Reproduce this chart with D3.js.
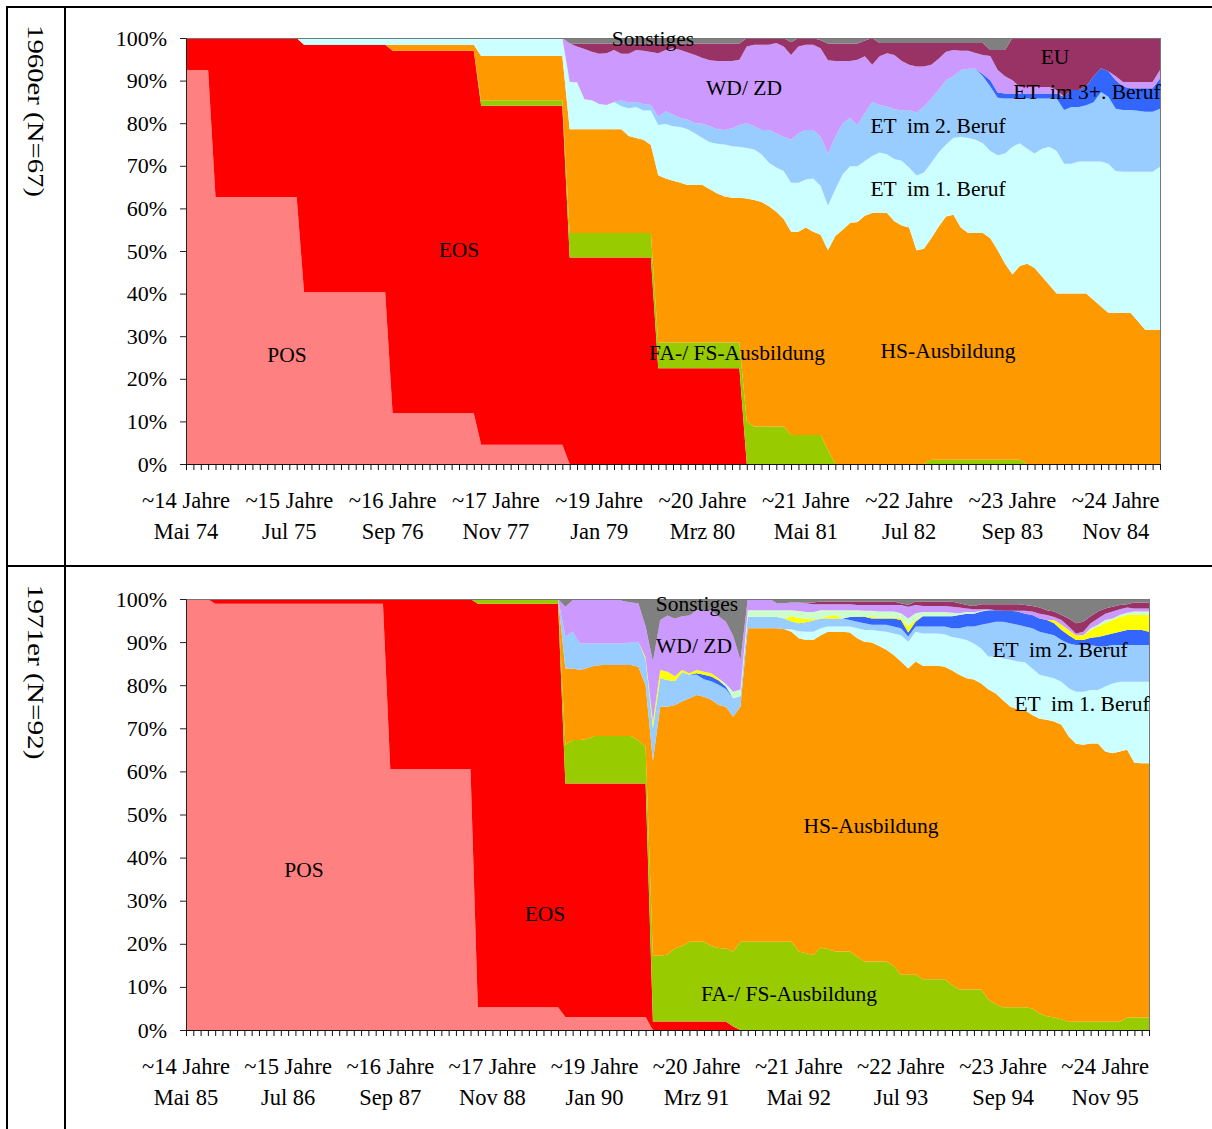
<!DOCTYPE html>
<html><head><meta charset="utf-8">
<script src="https://cdn.jsdelivr.net/npm/d3@7"></script>
<style>
body{margin:0;background:#fff;}
svg text{font-family:"Liberation Serif","Times New Roman",serif;fill:#000;}
</style></head><body>
<svg id="c" width="1212" height="1129"></svg>
<script>
// ---------- shared labels ----------
const seriesKeys = ["POS","EOS","FA","HS","ET1","ET2","ET3","GELB","HGRUEN","WDZD","EU","SONST"];
const seriesColors = {POS:"#FF8080",EOS:"#FF0000",FA:"#99CC00",HS:"#FF9900",ET1:"#CCFFFF",ET2:"#99CCFF",ET3:"#3366FF",GELB:"#FFFF00",HGRUEN:"#CCFFCC",WDZD:"#CC99FF",EU:"#993366",SONST:"#808080"};
const yTicks = [0,0.1,0.2,0.3,0.4,0.5,0.6,0.7,0.8,0.9,1];
const ageLabels = ["~14 Jahre","~15 Jahre","~16 Jahre","~17 Jahre","~19 Jahre","~20 Jahre","~21 Jahre","~22 Jahre","~23 Jahre","~24 Jahre"];
const dateLabels60 = ["Mai 74","Jul 75","Sep 76","Nov 77","Jan 79","Mrz 80","Mai 81","Jul 82","Sep 83","Nov 84"];
const dateLabels71 = ["Mai 85","Jul 86","Sep 87","Nov 88","Jan 90","Mrz 91","Mai 92","Jul 93","Sep 94","Nov 95"];
const labelStep = 14;

// ---------- 1960er (N=67), monthly shares in %, months 0..132 ----------
const pos60 = [92.5,92.5,92.5,92.5,
62.7,62.7,62.7,62.7,62.7,62.7,62.7,62.7,62.7,62.7,62.7,62.7,
40.3,40.3,40.3,40.3,40.3,40.3,40.3,40.3,40.3,40.3,40.3,40.3,
11.9,11.9,11.9,11.9,11.9,11.9,11.9,11.9,11.9,11.9,11.9,11.9,
4.5,4.5,4.5,4.5,4.5,4.5,4.5,4.5,4.5,4.5,4.5,4.5,
0,0,0,0,0,0,0,0,0,0,0,0,
0,0,0,0,0,0,0,0,0,0,0,0,
0,0,0,0,0,0,0,0,0,0,0,0,
0,0,0,0,0,0,0,0,0,0,0,0,0,
0,0,0,0,0,0,0,0,0,0,0,0,0,
0,0,0,0,0,0,0,0,0,0,0,0,0,0,0,0,0,0,0];
const eos60 = [7.5,7.5,7.5,7.5,
37.3,37.3,37.3,37.3,37.3,37.3,37.3,37.3,37.3,37.3,37.3,37.3,
58.1,58.1,58.1,58.1,58.1,58.1,58.1,58.1,58.1,58.1,58.1,58.1,
85.1,85.1,85.1,85.1,85.1,85.1,85.1,85.1,85.1,85.1,85.1,85.1,
79.6,79.6,79.6,79.6,79.6,79.6,79.6,79.6,79.6,79.6,79.6,79.6,
48.5,48.5,48.5,48.5,48.5,48.5,48.5,48.5,48.5,48.5,48.5,48.5,
22.5,22.5,22.5,22.5,22.5,22.5,22.5,22.5,22.5,22.5,22.5,22.5,
0,0,0,0,0,0,0,0,0,0,0,0,
0,0,0,0,0,0,0,0,0,0,0,0,0,
0,0,0,0,0,0,0,0,0,0,0,0,0,
0,0,0,0,0,0,0,0,0,0,0,0,0,0,0,0,0,0,0];
const fa60 = [0,0,0,0,
0,0,0,0,0,0,0,0,0,0,0,0,
0,0,0,0,0,0,0,0,0,0,0,0,
0,0,0,0,0,0,0,0,0,0,0,0,
1.3,1.3,1.3,1.3,1.3,1.3,1.3,1.3,1.3,1.3,1.3,1.3,
5.7,5.7,5.7,5.7,5.7,5.7,5.7,5.7,5.7,5.7,5.7,5.7,
6.0,6.0,6.0,6.0,6.0,6.0,6.0,6.0,6.0,6.0,6.0,6.0,
9.9,8.8,8.8,8.8,8.8,8.8,6.8,6.8,6.8,6.8,6.8,3.3,
0,0,0,0,0,0,0,0,0,0,0,0,0,
1.0,1.0,1.0,1.0,1.0,1.0,1.0,1.0,1.0,1.0,1.0,1.0,1.0,
0,0,0,0,0,0,0,0,0,0,0,0,0,0,0,0,0,0,0];
const hs60 = [0,0,0,0,
0,0,0,0,0,0,0,0,0,0,0,0,
0,0,0,0,0,0,0,0,0,0,0,0,
1.4,1.4,1.4,1.4,1.4,1.4,1.4,1.4,1.4,1.4,1.4,1.4,
10.4,10.4,10.4,10.4,10.4,10.4,10.4,10.4,10.4,10.4,10.4,10.4,
24.4,24.4,24.4,24.4,24.4,24.4,24.4,24.4,22.8,22.3,21.9,20.7,
39.3,38.5,38.0,37.5,37.0,37.0,37.0,36.0,35.0,34.3,34.0,34.0,
52.4,53.2,52.7,51.7,50.4,48.7,47.7,47.7,48.7,47.7,47.0,46.9,
53.5,55.0,56.6,56.8,58.3,58.9,58.9,58.9,57.0,56.0,55.5,50.2,50.5,
52.0,54.7,57.1,57.5,54.5,53.2,53.2,53.2,52.0,49.2,46.0,43.5,45.5,
47,46,44,42,40,40,40,40,40,38.5,37,35.5,35.5,35.5,35.5,33.5,31.5,31.5,31.5];
const et1_60 = [0,0,0,0,
0,0,0,0,0,0,0,0,0,0,0,0,
1.6,1.6,1.6,1.6,1.6,1.6,1.6,1.6,1.6,1.6,1.6,1.6,
1.6,1.6,1.6,1.6,1.6,1.6,1.6,1.6,1.6,1.6,1.6,1.6,
4.2,4.2,4.2,4.2,4.2,4.2,4.2,4.2,4.2,4.2,4.2,4.2,
11.1,11.0,7.0,6.8,5.9,5.7,6.4,5.4,6.5,7.3,6.9,8.1,
11.8,12.8,12.8,13.1,13.1,12.1,11.0,11.0,11.7,12.2,12.1,12.0,
11.9,11.8,11.2,10.2,10.4,11.3,11.5,11.5,11.3,12.5,11.5,10.4,
11.0,13.0,13.3,13.1,12.8,13.4,14.2,13.8,14.6,15.2,14.1,17.5,17.9,
17.7,17.4,16.9,18.0,21.3,22.3,21.9,21.1,20.5,22.3,25.9,30.0,28.8,
27,26.9,30,32.5,33.5,30.5,30.5,31,31,32.5,34,35,33.3,33.1,33.1,35.1,37.1,37.1,38.3];
const et2_60 = [0,0,0,0,
0,0,0,0,0,0,0,0,0,0,0,0,
0,0,0,0,0,0,0,0,0,0,0,0,
0,0,0,0,0,0,0,0,0,0,0,0,
0,0,0,0,0,0,0,0,0,0,0,0,
0,0,0,0,0,0,0,1.4,1.3,1.2,1.5,1.3,
1.9,3.0,2.7,2.1,2.2,2.4,3.4,3.8,3.4,3.4,4.2,5.1,
5.8,5.5,5.7,7.7,8.0,8.0,10.1,11.6,11.6,11.4,11.5,12.3,
12.3,12.0,11.3,9.7,11.3,12.7,11.2,11.2,11.7,11.8,13.5,14.8,15.5,
15.1,14.7,15.1,14.5,15.7,16.3,16.7,15.7,15.1,13.5,12.9,11.3,10.5,
11.8,12.9,11.8,11.3,12.3,12.6,13.3,12.8,13.2,13.9,16.3,15.7,14.6,14.5,14.5,14.3,14.1,14.1,13.6];
const et3_60 = [0,0,0,0,
0,0,0,0,0,0,0,0,0,0,0,0,
0,0,0,0,0,0,0,0,0,0,0,0,
0,0,0,0,0,0,0,0,0,0,0,0,
0,0,0,0,0,0,0,0,0,0,0,0,
0,0,0,0,0,0,0,0,0,0,0,0,
0,0,0,0,0,0,0,0,0,0,0,0,
0,0,0,0,0,0,0,0,0,0,0,0,
0,0,0,0,0,0,0,0,0,0,0,0,0,
0,0,0,0,0,0,0,0.5,1.5,1.2,1.2,1.2,1.2,
1.2,1.2,1.2,1.2,1.2,3.1,4.0,4.0,4.4,6.1,5.6,6.0,6.7,5.5,5.1,5.3,5.5,5.5,7.1];
const wd60 = [0,0,0,0,
0,0,0,0,0,0,0,0,0,0,0,0,
0,0,0,0,0,0,0,0,0,0,0,0,
0,0,0,0,0,0,0,0,0,0,0,0,
0,0,0,0,0,0,0,0,0,0,0,0,
9.0,8.4,11.8,11.4,11.8,12.1,12.2,10.9,11.5,12.2,12.5,12.4,
14.9,14.4,15.6,16.0,15.8,16.0,15.4,15.5,16.0,16.2,15.8,15.3,
18.0,19.1,20.0,20.0,21.2,21.2,19.9,20.4,20.0,20.0,20.8,21.9,
17.8,14.6,13.4,15.3,13.3,8.7,11.4,12.5,12.7,11.6,10.6,10.8,9.4,
7.9,7.3,6.7,6.2,4.5,4.2,3.7,4.5,5.7,5.3,4.0,3.1,1.5,
1.5,1.5,1.5,1.5,0.8,0,0,0,0,0,0,0,0.9,1.1,1.5,1.5,1.5,1.5,2.0];
const eu60 = [0,0,0,0,
0,0,0,0,0,0,0,0,0,0,0,0,
0,0,0,0,0,0,0,0,0,0,0,0,
0,0,0,0,0,0,0,0,0,0,0,0,
0,0,0,0,0,0,0,0,0,0,0,0,
0,0.7,1.3,1.9,2.4,2.3,1.5,2.4,2.4,1.5,1.7,2.0,
2.3,1.5,1.1,1.5,2.1,2.7,3.4,3.9,4.1,4.1,4.1,3.8,
2.0,1.6,1.6,1.6,1.2,2.0,3.0,2.0,1.6,1.6,1.9,3.9,
4.1,4.1,4.1,3.8,3.7,6.3,3.1,2.4,2.8,4.2,5.1,5.5,5.5,
5.1,3.7,2.0,1.6,1.8,1.8,2.3,2.8,1.4,4.7,6.2,9.9,11.5,
11.5,11.5,11.5,11.5,12.2,13.8,12.2,12.2,11.4,9.0,7.1,7.8,9.0,10.3,10.3,10.3,10.3,10.3,7.5];
const son60 = [0,0,0,0,
0,0,0,0,0,0,0,0,0,0,0,0,
0,0,0,0,0,0,0,0,0,0,0,0,
0,0,0,0,0,0,0,0,0,0,0,0,
0,0,0,0,0,0,0,0,0,0,0,0,
1.3,1.3,1.3,1.3,1.3,1.3,1.3,1.3,1.3,1.3,1.3,1.3,
1.3,1.3,1.3,1.3,1.3,1.3,1.3,1.3,1.3,1.3,1.3,1.3,
0,0,0,0,0,0,1.0,0,0,0,0.5,1.3,
1.3,1.3,1.3,1.3,0.6,0,1.2,1.2,1.2,1.2,1.2,1.2,1.2,
1.2,1.2,1.2,1.2,1.2,1.2,1.2,1.2,2.8,2.8,2.8,0,0,
0,0,0,0,0,0,0,0,0,0,0,0,0,0,0,0,0,0,0];

// ---------- 1971er (N=92), monthly shares in %, months 0..132 ----------
const pos71 = [100,100,100,100,
98.9,98.9,98.9,98.9,98.9,98.9,98.9,98.9,98.9,98.9,98.9,98.9,
98.9,98.9,98.9,98.9,98.9,98.9,98.9,98.9,98.9,98.9,98.9,98.9,
60.5,60.5,60.5,60.5,60.5,60.5,60.5,60.5,60.5,60.5,60.5,60.5,
5.3,5.3,5.3,5.3,5.3,5.3,5.3,5.3,5.3,5.3,5.3,5.3,
3.0,3.0,3.0,3.0,3.0,3.0,3.0,3.0,3.0,3.0,3.0,3.0,
0,0,0,0,0,0,0,0,0,0,0,0,
0,0,0,0,0,0,0,0,0,0,0,0,
0,0,0,0,0,0,0,0,0,0,0,0,0,
0,0,0,0,0,0,0,0,0,0,0,0,0,
0,0,0,0,0,0,0,0,0,0,0,0,0,0,0,0,0,0,0];
const eos71 = [0,0,0,0,
1.1,1.1,1.1,1.1,1.1,1.1,1.1,1.1,1.1,1.1,1.1,1.1,
1.1,1.1,1.1,1.1,1.1,1.1,1.1,1.1,1.1,1.1,1.1,1.1,
39.5,39.5,39.5,39.5,39.5,39.5,39.5,39.5,39.5,39.5,39.5,39.5,
93.6,93.6,93.6,93.6,93.6,93.6,93.6,93.6,93.6,93.6,93.6,93.6,
54.2,54.2,54.2,54.2,54.2,54.2,54.2,54.2,54.2,54.2,54.2,54.2,
2.0,2.0,2.0,2.0,2.0,2.0,2.0,2.0,2.0,2.0,2.0,0.8,
0,0,0,0,0,0,0,0,0,0,0,0,
0,0,0,0,0,0,0,0,0,0,0,0,0,
0,0,0,0,0,0,0,0,0,0,0,0,0,
0,0,0,0,0,0,0,0,0,0,0,0,0,0,0,0,0,0,0];
const fa71 = [0,0,0,0,
0,0,0,0,0,0,0,0,0,0,0,0,
0,0,0,0,0,0,0,0,0,0,0,0,
0,0,0,0,0,0,0,0,0,0,0,0,
1.1,1.1,1.1,1.1,1.1,1.1,1.1,1.1,1.1,1.1,1.1,1.1,
8.9,10.1,10.1,10.3,11.0,11.0,11.0,11.0,11.0,11.0,10.0,8.5,
15.2,15.2,15.5,16.9,17.5,18.5,18.5,18.5,17.5,17.0,16.9,17.4,
20.5,20.5,20.5,20.5,20.5,20.5,20.5,20.5,18.2,17.8,17.4,19.1,
18.8,18.2,18.2,18.2,17.0,15.9,15.9,15.9,15.9,14.9,12.8,12.8,12.8,
11.8,11.8,11.8,11.8,10.5,9.4,9.4,9.4,9.4,7.0,6.0,5.3,5.3,
5.3,5.3,5.0,3.8,3.2,2.9,2.5,1.9,1.9,1.9,1.9,1.9,1.9,1.9,1.9,2.9,2.9,2.9,2.9];
const hs71 = [0,0,0,0,
0,0,0,0,0,0,0,0,0,0,0,0,
0,0,0,0,0,0,0,0,0,0,0,0,
0,0,0,0,0,0,0,0,0,0,0,0,
0,0,0,0,0,0,0,0,0,0,0,0,
17.8,16.6,16.2,16.5,16.3,16.5,16.5,16.5,16.5,16.5,17.1,14.3,
45.3,57.8,57.5,56.5,56.7,56.5,57.2,56.8,57.1,56.4,56.1,54.5,
54.5,72.7,72.7,72.7,72.7,72.7,72.5,71.9,72.7,72.7,73.1,72.5,
73.6,74.2,74.2,74.0,73.9,74.2,74.0,73.2,72.3,72.1,72.7,71.1,72.7,
72.7,72.7,72.7,72.5,72.9,73.0,72.2,71.9,71.0,72.0,72.1,71.2,69.7,
69.1,68.9,68.1,68.4,68.8,68.7,68.3,66.2,64.5,64.3,64.6,64.6,62.7,62.3,62.7,62.1,59.1,59.0,59.0];
const et1_71 = [0,0,0,0,
0,0,0,0,0,0,0,0,0,0,0,0,
0,0,0,0,0,0,0,0,0,0,0,0,
0,0,0,0,0,0,0,0,0,0,0,0,
0,0,0,0,0,0,0,0,0,0,0,0,
0,0,0,0,0,0,0,0,0,0,0,0,
0,0,0,0,0,0,0,0,0,0,0,0,
0,0,0,0,0,0,0,0.6,1.6,1.9,1.9,1.6,
1.2,1.2,1.2,1.4,2.3,2.7,2.9,3.5,4.2,5.0,6.1,6.2,6.9,
7.5,7.5,7.5,7.5,7.8,8.5,8.9,8.4,8.1,7.6,8.7,9.7,10.9,
11.1,11.1,10.8,10.2,10.0,10.0,10.0,11.2,12.1,12.3,12.4,12.4,15.1,16.2,16.2,15.8,18.8,18.9,18.9];
const et2_71 = [0,0,0,0,
0,0,0,0,0,0,0,0,0,0,0,0,
0,0,0,0,0,0,0,0,0,0,0,0,
0,0,0,0,0,0,0,0,0,0,0,0,
0,0,0,0,0,0,0,0,0,0,0,0,
7.4,8.5,6.2,5.7,5.2,5.0,5.0,5.0,5.0,5.2,5.8,6.0,
7.5,6.6,6.2,5.5,6.8,5.4,4.7,4.1,4.3,4.7,4.1,4.3,
2.5,2.6,2.6,2.6,2.6,2.6,2.5,1.8,1.9,2.2,2.6,2.3,
1.9,1.9,1.9,1.5,1.5,1.6,1.2,1.4,1.6,1.6,1.6,1.2,1.2,
1.6,1.6,1.6,1.8,2.0,2.3,3.1,3.9,5.5,7.8,7.9,8.5,8.5,
8.5,8.3,9.3,10.0,10.0,10.0,9.7,10.4,10.8,10.8,10.4,10.1,9.3,8.9,8.5,8.5,8.5,8.5,8.5];
const et3_71 = [0,0,0,0,
0,0,0,0,0,0,0,0,0,0,0,0,
0,0,0,0,0,0,0,0,0,0,0,0,
0,0,0,0,0,0,0,0,0,0,0,0,
0,0,0,0,0,0,0,0,0,0,0,0,
0,0,0,0,0,0,0,0,0,0,0,0,
0,0,0,0,0,0,0.4,1.0,1.1,1.0,0.6,0,
0,0,0,0,0,0,0,0,0,0,0,0,
0,0,0,0.7,1.2,1.5,1.5,1.5,1.5,1.9,1.9,0.9,1.1,
2.4,2.4,2.4,2.4,2.8,3.1,3.0,3.0,3.1,3.0,2.7,2.6,2.9,
3.1,3.0,3.1,3.1,3.1,2.8,2.3,1.9,1.2,1.2,1.7,2.2,2.6,2.7,3.1,3.5,3.5,3.5,3.1];
const gelb71 = [0,0,0,0,
0,0,0,0,0,0,0,0,0,0,0,0,
0,0,0,0,0,0,0,0,0,0,0,0,
0,0,0,0,0,0,0,0,0,0,0,0,
0,0,0,0,0,0,0,0,0,0,0,0,
0,0,0,0,0,0,0,0,0,0,0,0.5,
1.5,1.9,1.9,1.2,0.5,0.4,0.7,0.7,0.8,0.5,0,0,
0,0,0,0,0,0,0,1.2,1.2,0.8,0.3,0,
0.5,0.8,0,0,0.1,0.1,0.3,0.2,0.2,0.2,0.4,1.4,0.4,
0,0,0,0,0,0,0,0,0,0,0,0,0,
0,0,0,0,0,0.7,1.2,1.2,1.1,1.1,1.8,2.4,2.8,3.1,3.4,3.5,3.5,3.5,3.9];
const hgruen71 = [0,0,0,0,
0,0,0,0,0,0,0,0,0,0,0,0,
0,0,0,0,0,0,0,0,0,0,0,0,
0,0,0,0,0,0,0,0,0,0,0,0,
0,0,0,0,0,0,0,0,0,0,0,0,
0,0,0,0,0,0,0,0,0,0,0,0,
0,0,0,0,0,0,0,0,0,0,0.6,1.5,
1.5,1.6,1.6,1.6,1.6,1.6,1.9,1.4,1.6,1.6,1.7,1.9,
1.4,1.1,1.9,1.6,1.4,1.3,1.5,1.4,1.4,1.4,1.2,1.9,1.6,
1.0,1.0,1.0,1.0,0.8,0.4,0.4,0.3,0.2,0.1,0,0,0,
0,0,0,0,0,0,0,0,0,0,0.4,0.4,0.7,0.4,0.5,0.5,0.8,0.8,0.8];
const wd71 = [0,0,0,0,
0,0,0,0,0,0,0,0,0,0,0,0,
0,0,0,0,0,0,0,0,0,0,0,0,
0,0,0,0,0,0,0,0,0,0,0,0,
0,0,0,0,0,0,0,0,0,0,0,0,
6.9,7.3,10.3,10.3,10.3,10.3,10.3,10.3,9.8,9.3,8.9,7.1,
14.0,11.6,13.1,13.3,12.5,13.4,13.9,14.3,14.6,14.4,14.4,13.0,
6.8,2.6,2.6,2.6,2.6,1.6,1.6,1.8,2.0,2.0,1.8,1.4,
1.4,1.4,1.4,1.4,1.2,1.3,1.3,1.5,1.5,1.5,1.9,2.7,1.9,
1.4,1.4,1.4,1.4,1.4,1.3,0.8,0.7,0.3,0.1,0,0,0,
0.2,0.7,0.8,1.1,1.2,0.7,1.1,0.8,0.4,0.8,1.2,1.5,1.5,1.6,1.3,1.2,0.7,0.7,0.7];
const eu71 = [0,0,0,0,
0,0,0,0,0,0,0,0,0,0,0,0,
0,0,0,0,0,0,0,0,0,0,0,0,
0,0,0,0,0,0,0,0,0,0,0,0,
0,0,0,0,0,0,0,0,0,0,0,0,
0,0,0,0,0,0,0,0,0,0,0,0,
0,0,0,0,0,0,0,0,0,0,0,0,
0,0,0,0,0,0,0,0,0,0.2,0.4,0.6,
0.6,0.6,0.6,0.6,0.8,0.8,0.8,0.8,0.8,0.8,0.4,0.4,0.8,
1.0,1.0,1.0,1.0,1.2,1.0,0.8,0.8,1.2,1.2,1.4,1.5,1.5,
1.5,1.3,1.3,1.4,1.1,1.3,1.2,1.9,2.4,2.3,1.6,1.6,1.2,1.1,1.0,0.8,1.4,1.4,1.4];
const son71 = [0,0,0,0,
0,0,0,0,0,0,0,0,0,0,0,0,
0,0,0,0,0,0,0,0,0,0,0,0,
0,0,0,0,0,0,0,0,0,0,0,0,
0,0,0,0,0,0,0,0,0,0,0,0,
1.8,0.3,0,0,0,0,0,0,0.5,0.8,1.0,6.4,
14.5,4.9,3.8,4.6,4.0,3.8,2.6,2.6,2.6,4.0,5.3,8.5,
14.2,0,0,0,0,1.0,1.0,0.8,0.8,0.8,0.8,0.6,
0.6,0.6,0.6,0.6,0.6,0.6,0.6,0.6,0.6,0.6,1.0,1.4,0.6,
0.6,0.6,0.6,0.6,0.6,1.0,1.4,1.6,1.2,1.2,1.2,1.2,1.2,
1.2,1.4,1.6,2.0,2.6,2.9,3.7,4.5,5.6,5.3,4.0,2.9,2.2,1.8,1.4,1.2,0.8,0.8,0.8];

// ---------- layout ----------
const charts = [
  { x0:186, x1:1160, y0:38, y1:464, title:"1960er (N=67)", titleY:111, titleLen:172, dates:dateLabels60,
    data:{POS:pos60,EOS:eos60,FA:fa60,HS:hs60,ET1:et1_60,ET2:et2_60,ET3:et3_60,WDZD:wd60,EU:eu60,SONST:son60},
    labels:[["Sonstiges",653,46],["WD/ ZD",744,95],["EU",1055,64],["ET  im 3+. Beruf",1087,99],["ET  im 2. Beruf",938,133],["ET  im 1. Beruf",938,196],["EOS",459,257],["POS",287,362],["FA-/ FS-Ausbildung",737,360],["HS-Ausbildung",948,358]] },
  { x0:186, x1:1149, y0:599, y1:1030, title:"1971er (N=92)", titleY:672, titleLen:175, dates:dateLabels71,
    data:{POS:pos71,EOS:eos71,FA:fa71,HS:hs71,ET1:et1_71,ET2:et2_71,ET3:et3_71,GELB:gelb71,HGRUEN:hgruen71,WDZD:wd71,EU:eu71,SONST:son71},
    labels:[["Sonstiges",697,611],["WD/ ZD",694,653],["ET  im 2. Beruf",1060,657],["ET  im 1. Beruf",1082,711],["HS-Ausbildung",871,833],["POS",304,877],["EOS",545,921],["FA-/ FS-Ausbildung",789,1001]] }
];

const svg = d3.select("#c");
svg.append("rect").attr("width",1212).attr("height",1129).attr("fill","#fff");

const dbg = [];
charts.forEach(cfg => {
  const keys = seriesKeys.filter(k => cfg.data[k]);
  const n = cfg.data.POS.length;
  keys.forEach(k => { if (cfg.data[k].length !== n) dbg.push(cfg.title + " " + k + " " + cfg.data[k].length); });
  const rows = cfg.data.POS.map((_, i) => { const o = {}; keys.forEach(k => o[k] = cfg.data[k][i] || 0); return o; });
  const layers = d3.stack().keys(keys).offset(d3.stackOffsetExpand)(rows);
  const x = d3.scaleLinear().domain([0, n - 1]).range([cfg.x0, cfg.x1]);
  const y = d3.scaleLinear().domain([0, 1]).range([cfg.y1, cfg.y0]);
  const area = d3.area().x((d, i) => x(i)).y0(d => y(d[0])).y1(d => y(d[1]));
  const g = svg.append("g");
  g.selectAll("path.layer").data(layers).join("path").attr("class","layer")
    .attr("d", area).attr("fill", d => seriesColors[d.key]);
  g.append("rect").attr("x", cfg.x0 + 0.5).attr("y", cfg.y0 + 0.5).attr("width", cfg.x1 - cfg.x0).attr("height", cfg.y1 - cfg.y0)
    .attr("fill","none").attr("stroke","#777").attr("stroke-width",1);

  const ya = g.append("g").attr("transform", `translate(${cfg.x0},0)`)
    .call(d3.axisLeft(y).tickValues(yTicks).tickFormat(d => Math.round(d * 100) + "%").tickSize(6).tickPadding(13));
  ya.attr("font-family", null).attr("font-size", null);
  ya.selectAll("text").style("font-size","22px");
  ya.selectAll("path,line").attr("stroke","#222");

  const xa = g.append("g").attr("transform", `translate(0,${cfg.y1})`)
    .call(d3.axisBottom(x).tickValues(d3.range(n)).tickFormat("").tickSize(6));
  xa.selectAll("path,line").attr("stroke","#111");

  cfg.dates.forEach((dl, k) => {
    const xx = x(k * labelStep);
    g.append("text").attr("x", xx).attr("y", cfg.y1 + 44).attr("text-anchor","middle").style("font-size","22.5px").text(ageLabels[k]);
    g.append("text").attr("x", xx).attr("y", cfg.y1 + 75).attr("text-anchor","middle").style("font-size","22.5px").text(dl);
  });

  cfg.labels.forEach(([t, lx, ly]) => {
    g.append("text").attr("x", lx).attr("y", ly).attr("text-anchor","middle")
      .style("font-size","21.5px").style("white-space","pre").text(t);
  });

  svg.append("text").attr("transform", `translate(36,${cfg.titleY}) rotate(90)`).attr("text-anchor","middle")
    .attr("dy","0.35em").style("font-size","24px").attr("textLength", cfg.titleLen).attr("lengthAdjust","spacingAndGlyphs")
    .text(cfg.title);
});

// table frame
const tbl = svg.append("g").attr("stroke","#000").attr("stroke-width",2);
tbl.append("line").attr("x1",6).attr("y1",7).attr("x2",1212).attr("y2",7);
tbl.append("line").attr("x1",7).attr("y1",6).attr("x2",7).attr("y2",1129);
tbl.append("line").attr("x1",65).attr("y1",6).attr("x2",65).attr("y2",1129);
tbl.append("line").attr("x1",6).attr("y1",566).attr("x2",1212).attr("y2",566);

if (dbg.length) svg.append("text").attr("x",300).attr("y",580).style("font-size","14px").style("fill","blue").text(dbg.join(" | "));
</script>
</body></html>
